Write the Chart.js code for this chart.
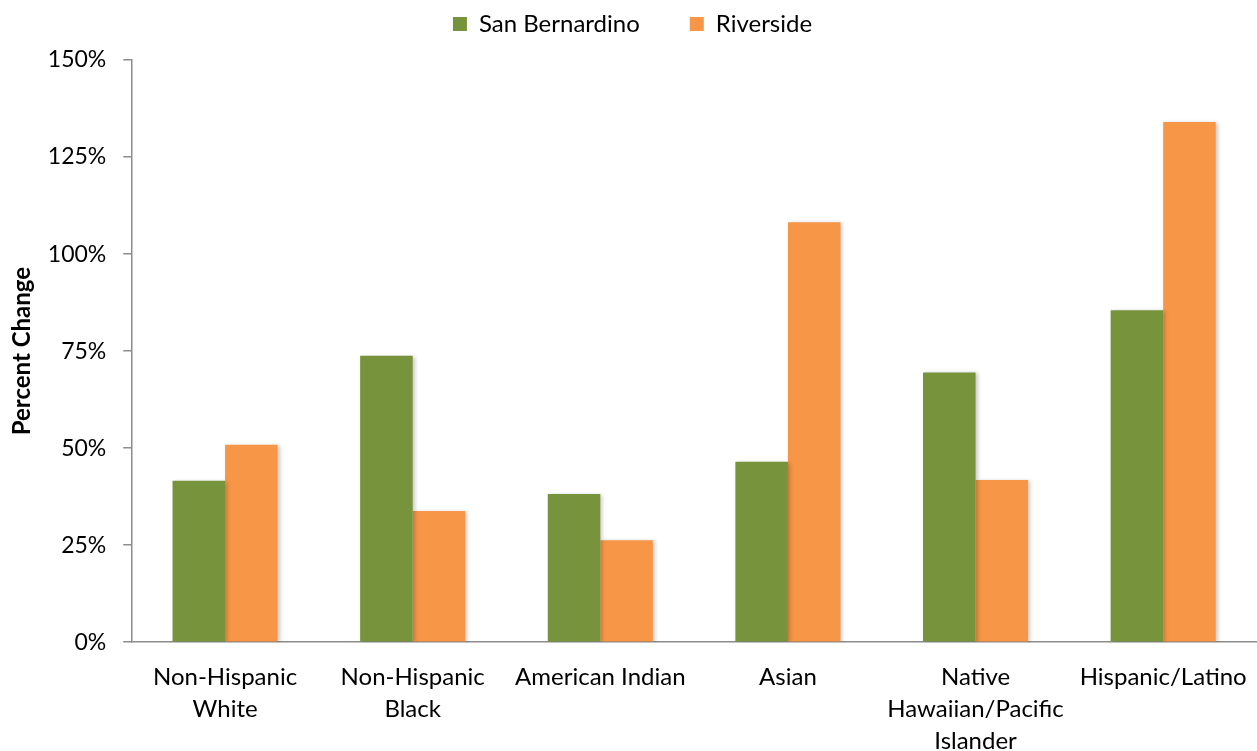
<!DOCTYPE html>
<html>
<head>
<meta charset="utf-8">
<script src="https://cdn.jsdelivr.net/npm/chart.js@4"></script>
<style>
  html, body { margin: 0; padding: 0; background: #fff; }
  #wrap { width: 1257px; height: 751px; }
</style>
</head>
<body>
<div id="wrap"><canvas id="myChart"></canvas></div>
<script>
const categories = [
  ["Non-Hispanic", "White"],
  ["Non-Hispanic", "Black"],
  "American Indian",
  "Asian",
  ["Native", "Hawaiian/Pacific", "Islander"],
  "Hispanic/Latino",
];
const sanBernardino = [41.6, 73.8, 38.2, 46.5, 69.5, 85.5];
const riverside = [50.9, 33.8, 26.3, 108.2, 41.8, 134.0];
const yTicks = [0, 25, 50, 75, 100, 125, 150];

const fontFamily = "Lato, 'Open Sans', sans-serif";

// soft drop shadow behind the bars
const barShadow = {
  id: "barShadow",
  beforeDatasetsDraw(chart) {
    const ctx = chart.ctx;
    ctx.save();
    ctx.shadowColor = "rgba(0,0,0,0.22)";
    ctx.shadowBlur = 4;
    ctx.shadowOffsetX = 2;
    ctx.shadowOffsetY = 1;
  },
  afterDatasetsDraw(chart) {
    chart.ctx.restore();
  },
};

// extra room between the legend row and the plot area
const legendGap = {
  id: "legendGap",
  beforeLayout(chart) {
    const legend = chart.legend;
    if (!legend || legend._gapPatched) return;
    const fit = legend.fit;
    legend.fit = function () {
      fit.call(this);
      this.height += 14;
    };
    legend._gapPatched = true;
  },
};

const data = {
  labels: categories,
  datasets: [
    {
      label: "San Bernardino",
      data: sanBernardino,
      backgroundColor: "#77933C",
    },
    {
      label: "Riverside",
      data: riverside,
      backgroundColor: "#F79646",
    },
  ],
};

const config = {
  type: "bar",
  data: data,
  plugins: [barShadow, legendGap],
  options: {
    responsive: true,
    maintainAspectRatio: false,
    animation: false,
    categoryPercentage: 0.56,
    barPercentage: 1.0,
    layout: { padding: { top: -38, right: 0, left: 8, bottom: -6 } },
    scales: {
      x: {
        // hidden tick marks still push the labels down
        grid: { display: false, drawTicks: true, tickLength: 19 },
        border: { color: "#8c8c8c", width: 1.5 },
        ticks: {
          color: "#000",
          font: { family: fontFamily, size: 24, lineHeight: 1.33 },
          maxRotation: 0,
          autoSkip: false,
          padding: 0,
        },
      },
      y: {
        min: 0,
        max: 150,
        afterBuildTicks: (axis) => {
          axis.ticks = yTicks.map((v) => ({ value: v }));
        },
        grid: {
          drawOnChartArea: false,
          drawTicks: true,
          tickLength: 8,
          color: "#8c8c8c",
          lineWidth: 1.5,
        },
        border: { color: "#8c8c8c", width: 1.5 },
        ticks: {
          color: "#000",
          font: { family: fontFamily, size: 23 },
          padding: 17,
          callback: (value) => value + "%",
        },
        title: {
          display: true,
          text: "Percent Change",
          color: "#000",
          font: { family: fontFamily, size: 24, weight: "bold" },
          padding: { top: 0, bottom: -6 },
        },
      },
    },
    plugins: {
      legend: {
        position: "top",
        labels: {
          color: "#000",
          font: { family: fontFamily, size: 24 },
          boxWidth: 14,
          boxHeight: 14,
          padding: 50,
        },
      },
      tooltip: { enabled: false },
    },
    events: [],
  },
};

const myBarChart = new Chart(document.getElementById("myChart"), config);
</script>
</body>
</html>
